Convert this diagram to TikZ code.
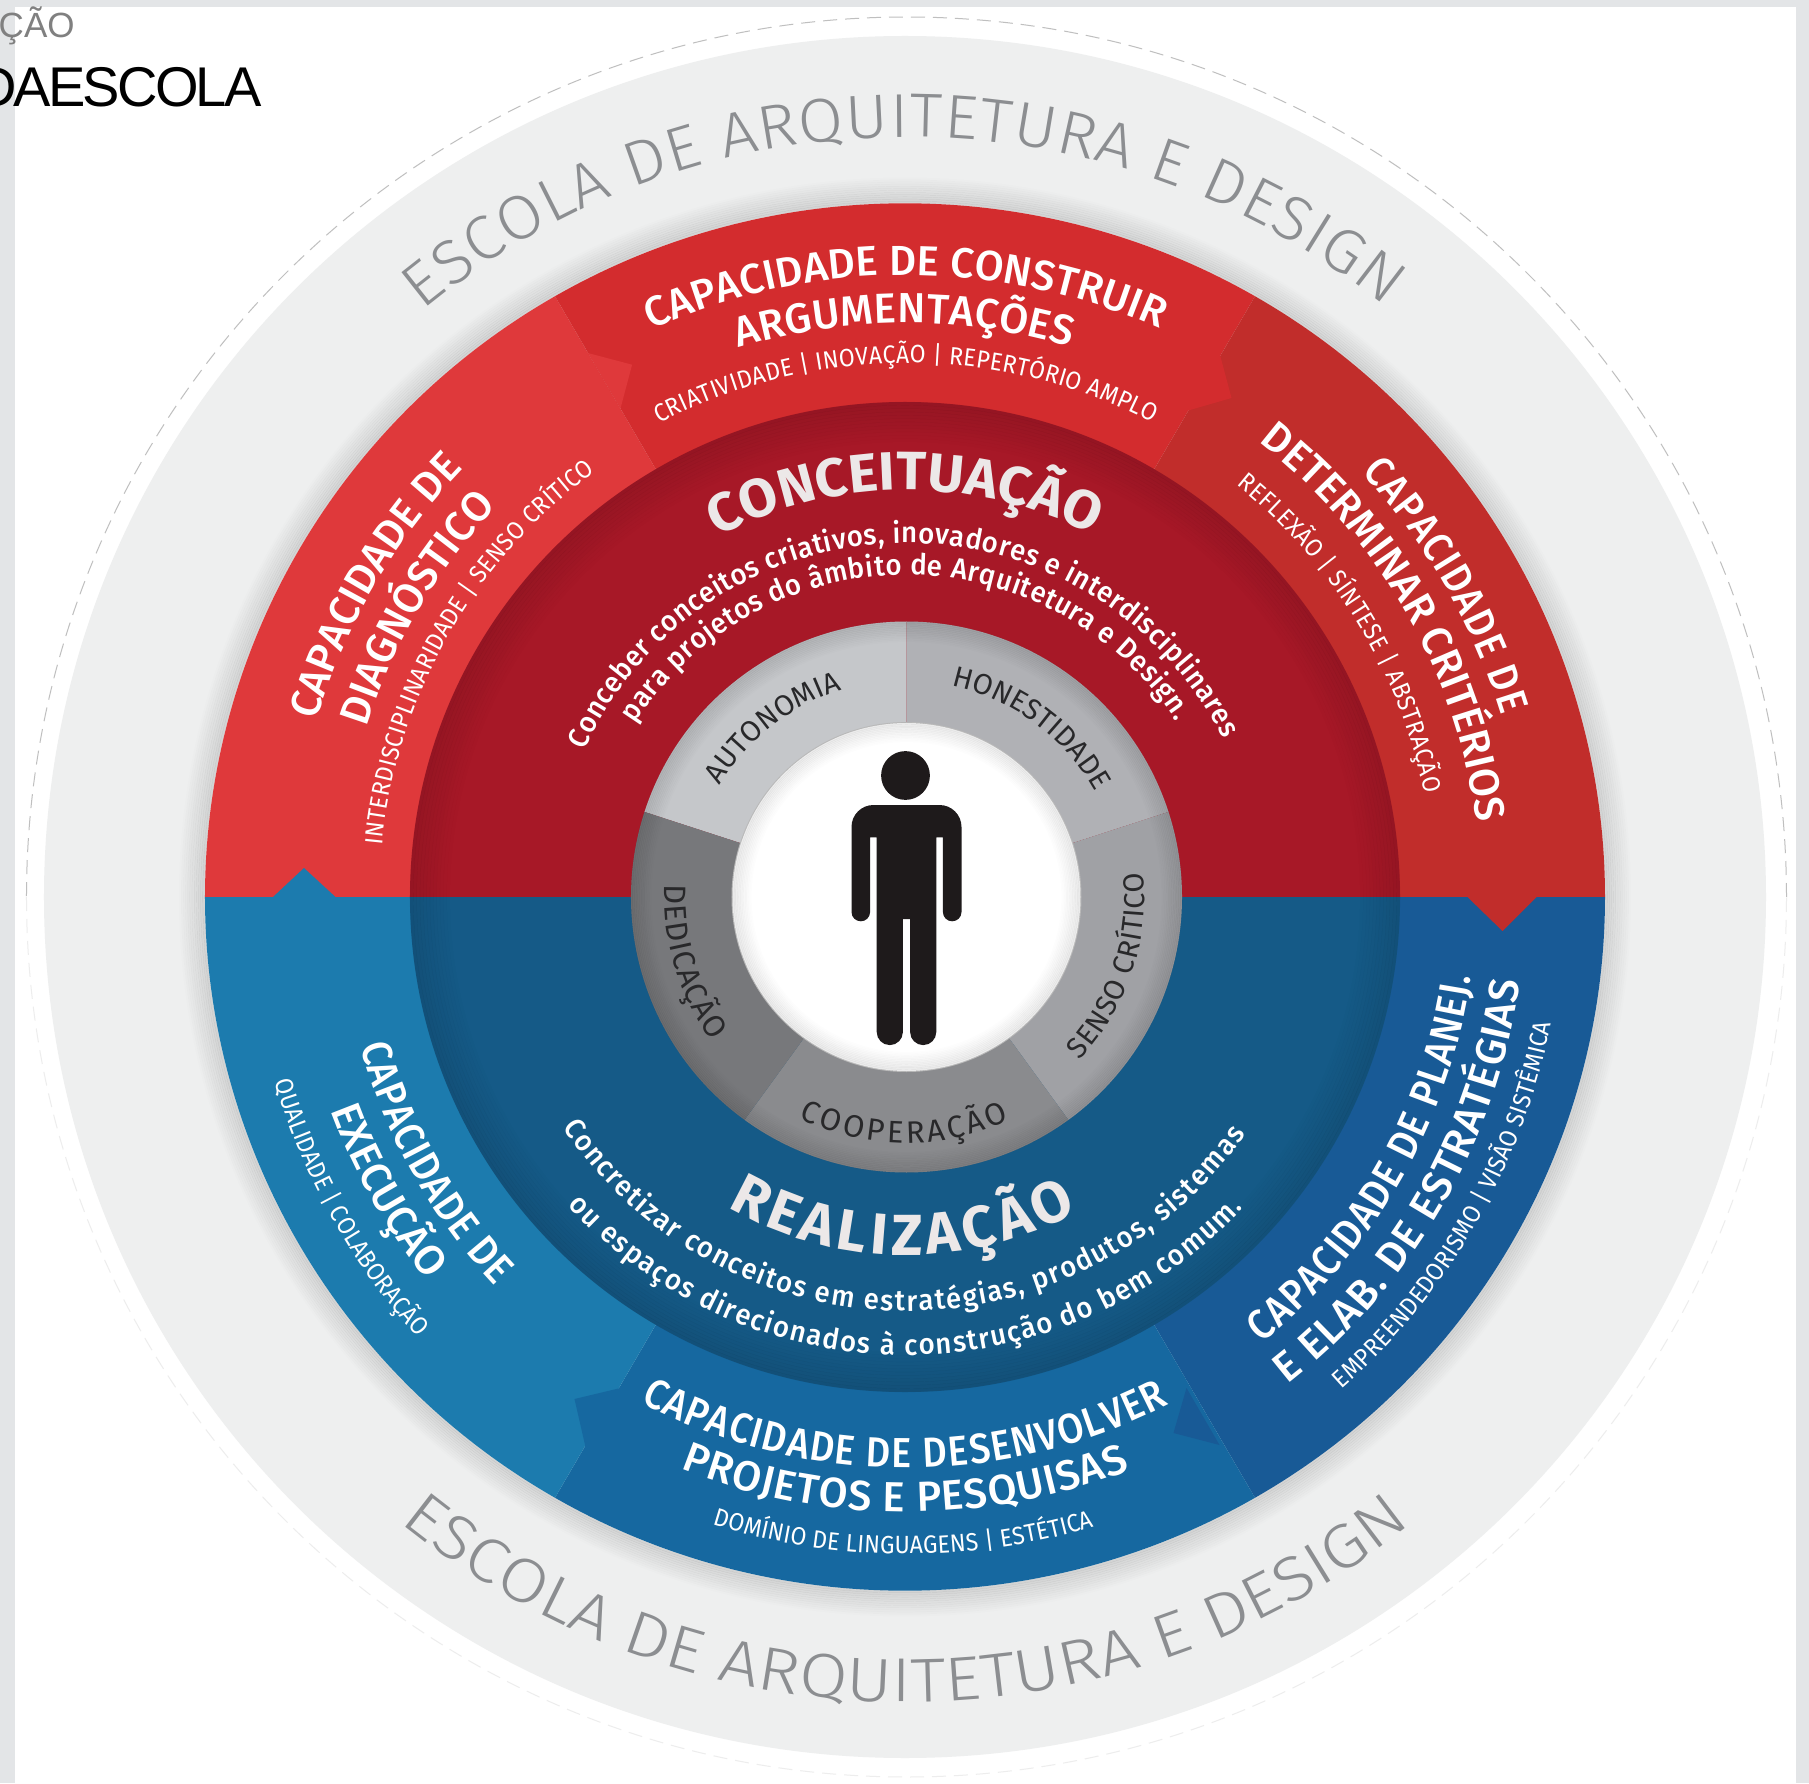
\documentclass[tikz,border=0pt]{standalone}
\usepackage{fontspec}
\usetikzlibrary{decorations.text}
\setmainfont{Fira Sans}
\newfontfamily\lightfam[FakeStretch=1.14]{Fira Sans Light}
\newfontfamily\lighttopfam[FakeStretch=1.06]{Fira Sans Light}
\newfontfamily\medfam{Fira Sans Medium}
\newfontfamily\medtightfam[FakeStretch=0.9]{Fira Sans Medium}
\newfontfamily\subfam[FakeStretch=0.92]{Fira Sans}
\newfontfamily\bodyfam[FakeStretch=0.95]{Fira Sans Medium}
\newfontfamily\mainfam[FakeStretch=1.03]{Fira Sans Bold}
\newfontfamily\lowerfam{Fira Sans Bold}
\newfontfamily\clipfam{Liberation Sans}
\newfontfamily\tightfam[LetterSpace=-5]{Liberation Sans}
\newcommand{\schoolfont}{\lightfam\fontsize{31}{31}\selectfont}
\newcommand{\schooltopfont}{\lighttopfam\fontsize{31}{31}\selectfont}
\newcommand{\headfont}{\medfam\fontsize{21}{21}\selectfont}
\newcommand{\headtightfont}{\medtightfam\fontsize{21}{21}\selectfont}
\newcommand{\subfont}{\subfam\fontsize{12.5}{12.5}\selectfont}
\newcommand{\mainfont}{\mainfam\fontsize{27}{27}\selectfont}
\newcommand{\lowerfont}{\lowerfam\fontsize{29}{29}\selectfont}
\newcommand{\bodyfont}{\bodyfam\fontsize{14.5}{14.5}\selectfont}
\newcommand{\ringfont}{\fontsize{14.5}{14.5}\selectfont}
\newcommand{\ringbigfont}{\fontsize{15.5}{15.5}\selectfont}
\definecolor{stripgray}{HTML}{E3E5E7}
\definecolor{discgray}{HTML}{EEEFEF}
\definecolor{schoolgray}{HTML}{8C8E91}
\definecolor{redleft}{HTML}{DF393B}
\definecolor{redtop}{HTML}{D32C2E}
\definecolor{redright}{HTML}{C12D2B}
\definecolor{reddark}{HTML}{A71827}
\definecolor{blueleft}{HTML}{1C7BAE}
\definecolor{bluebottom}{HTML}{1668A0}
\definecolor{blueright}{HTML}{185A96}
\definecolor{bluedark}{HTML}{155A87}
\definecolor{ringink}{HTML}{28282A}
\definecolor{figureink}{HTML}{1E1A1B}
\definecolor{softwhite}{HTML}{ECE8E8}
\definecolor{ringa}{HTML}{C5C7CA}
\definecolor{ringb}{HTML}{B0B1B5}
\definecolor{ringc}{HTML}{A0A1A5}
\definecolor{ringd}{HTML}{8A8B8E}
\definecolor{ringe}{HTML}{77787B}
\newcommand{\sector}[5]{\fill[#5] (#3:#1) arc[start angle=#3,end angle=#4,radius=#1] -- (#4:#2) arc[start angle=#4,end angle=#3,radius=#2] -- cycle;}
\newcommand{\rimshade}[3]{\foreach \n in {0,...,11}{
  \pgfmathsetmacro{\rad}{#1+(#2-#1)*(\n+0.5)/12}
  \pgfmathsetmacro{\fade}{#3*(\n+1)/12}
  \pgfmathsetmacro{\wide}{abs(#2-#1)/24+0.1}
  \draw[black,draw opacity=\fade,line width=\wide pt] (0,0) circle[radius=\rad];}}
\newcommand{\arctext}[6]{\path[decorate,decoration={text along path,text align={fit to path},text color=#2,text={|#1|#6}}] (#4:#3) arc[start angle=#4,end angle=#5,radius=#3];}
\begin{document}
\begin{tikzpicture}[x=0.5pt,y=0.5pt]
  \useasboundingbox (-906.5,-886) rectangle (902.5,897);
  \fill[white] (-906.5,-886) rectangle (902.5,897);
  \fill[stripgray] (-906.5,889.5) rectangle (902.5,897);
  \fill[stripgray] (-906.5,-886) rectangle (-891.5,897);
  \fill[stripgray] (889.5,-886) rectangle (902.5,897);
  \node[anchor=base east,inner sep=0pt,text=gray] (caption) at (-831.5,859.5) {\clipfam\fontsize{17.5}{17.5}\selectfont ÇÃO};
  \node[anchor=base east,inner sep=0pt,text=black] (title) at (-644.5,790) {\tightfam\fontsize{28}{28}\selectfont DAESCOLA};
  \draw[gray!50,line width=0.5pt,dash pattern=on 7pt off 4pt] (0:880) arc[start angle=0,end angle=180,radius=880];
  \draw[gray!14,line width=0.5pt,dash pattern=on 7pt off 4pt] (180:880) arc[start angle=180,end angle=360,radius=880];
  \begin{scope}[xshift=-0.75pt]
    \fill[discgray] (0,0) circle[radius=861];
    \begin{scope}[yscale=0.991]
      \rimshade{726}{700}{0.11}
      \sector{700}{410}{180}{120}{redleft}
      \sector{700}{410}{120}{60}{redtop}
      \sector{700}{410}{60}{0}{redright}
      \sector{700}{410}{360}{300}{blueright}
      \sector{700}{410}{300}{240}{bluebottom}
      \sector{700}{410}{240}{180}{blueleft}
    \end{scope}
    \fill[redleft] (-316.8,543.9) -- (-272.9,532.3) -- (-284.5,488.5) -- cycle;
    \fill[redtop] (314.5,544) -- (326.5,499) -- (281.5,486) -- cycle;
    \fill[redright] (562.5,0) -- (597.5,-34) -- (631.5,0) -- cycle;
    \fill[blueright] (281.5,-491) -- (268.5,-536) -- (314.5,-548) -- cycle;
    \fill[bluebottom] (-284.5,-491) -- (-330.5,-502) -- (-319.5,-550) -- cycle;
    \fill[blueleft] (-632,0) -- (-601,29) -- (-569.5,0) -- cycle;
    \sector{495}{0}{0}{180}{reddark}
    \sector{495}{0}{180}{360}{bluedark}
    \rimshade{455}{495}{0.1}
  \end{scope}
  \sector{275.5}{170}{162}{90}{ringa}
  \sector{275.5}{170}{90}{18}{ringb}
  \sector{275.5}{170}{18}{-54}{ringc}
  \sector{275.5}{170}{306}{234}{ringd}
  \sector{275.5}{170}{234}{162}{ringe}
  \rimshade{255}{275.5}{0.1}
  \fill[gray!55] (0,0) circle[radius=175];
  \fill[white] (0,0) circle[radius=174];
  \rimshade{155}{174}{0.08}
  \fill[figureink] (-1,121.5) circle[radius=24.4];
  \fill[figureink] (-36.4,59.6) -- (-36.4,-15) arc[start angle=0,end angle=-180,radius=9.3] -- (-55,70) arc[start angle=180,end angle=90,radius=22] -- (33,92) arc[start angle=90,end angle=0,radius=22] -- (55,-15) arc[start angle=0,end angle=-180,radius=9.3] -- (36.4,59.6) -- (29.8,59.6) -- (29.8,-135) arc[start angle=0,end angle=-180,radius=13.1] -- (3.6,-22) -- (-3.6,-22) -- (-3.6,-135) arc[start angle=0,end angle=-180,radius=13.1] -- (-29.8,59.6) -- cycle;
  \arctext{\schooltopfont}{schoolgray}{760}{129.5}{51}{ESCOLA DE ARQUITETURA E DESIGN}
  \arctext{\schoolfont}{schoolgray}{805}{231}{308.8}{ESCOLA DE ARQUITETURA E DESIGN}
  \arctext{\headfont}{white}{622}{114.2}{66}{CAPACIDADE DE CONSTRUIR}
  \arctext{\headfont}{white}{574}{107}{73.4}{ARGUMENTAÇÕES}
  \arctext{\subfont}{white}{534}{117.6}{62.6}{CRIATIVIDADE {\textbar} INOVAÇÃO {\textbar} REPERTÓRIO AMPLO}
  \arctext{\headfont}{white}{616}{163.4}{136.4}{CAPACIDADE DE}
  \arctext{\headfont}{white}{566}{162.6}{137.8}{DIAGNÓSTICO}
  \arctext{\subfont}{white}{527}{174.4}{126.2}{INTERDISCIPLINARIDADE {\textbar} SENSO CRÍTICO}
  \arctext{\headtightfont}{white}{622}{43}{17}{CAPACIDADE DE}
  \arctext{\headfont}{white}{575}{52.3}{7.8}{DETERMINAR CRITÉRIOS}
  \arctext{\subfont}{white}{528}{51.3}{11.3}{REFLEXÃO {\textbar} SÍNTESE {\textbar} ABSTRAÇÃO}
  \arctext{\headtightfont}{white}{566}{195.3}{223.4}{CAPACIDADE DE}
  \arctext{\headfont}{white}{614}{200.3}{218.6}{EXECUÇÃO}
  \arctext{\subfont}{white}{658}{196.3}{222}{QUALIDADE {\textbar} COLABORAÇÃO}
  \arctext{\headtightfont}{white}{571}{242.2}{297.4}{CAPACIDADE DE DESENVOLVER}
  \arctext{\headfont}{white}{615}{248.4}{291.3}{PROJETOS E PESQUISAS}
  \arctext{\subfont}{white}{657}{252.8}{286.6}{DOMÍNIO DE LINGUAGENS {\textbar} ESTÉTICA}
  \arctext{\headtightfont}{white}{570}{-51.5}{-8}{CAPACIDADE DE PLANEJ.}
  \arctext{\headfont}{white}{619}{-52}{-7.8}{E ELAB. DE ESTRATÉGIAS}
  \arctext{\subfont}{white}{657}{-48.5}{-11.1}{EMPREENDEDORISMO {\textbar} VISÃO SISTÊMICA}
  \arctext{\mainfont}{softwhite}{407}{117.6}{62.9}{CONCEITUAÇÃO}
  \arctext{\bodyfont}{white}{354}{155.5}{26.5}{Conceber conceitos criativos, inovadores e interdisciplinares}
  \arctext{\bodyfont}{white}{322}{147.5}{33}{para projetos do âmbito de Arquitetura e Design.}
  \arctext{\lowerfont}{softwhite}{358}{240}{298.5}{REALIZAÇÃO}
  \arctext{\bodyfont}{white}{414}{213.8}{325}{Concretizar conceitos em estratégias, produtos, sistemas}
  \arctext{\bodyfont}{white}{458}{222.3}{317.3}{ou espaços direcionados à construção do bem comum.}
  \arctext{\ringfont}{ringink}{217}{149.2}{108}{AUTONOMIA}
  \arctext{\ringfont}{ringink}{216}{78}{29.5}{HONESTIDADE}
  \arctext{\ringfont}{ringink}{238}{-43.3}{6}{SENSO CRÍTICO}
  \arctext{\ringbigfont}{ringink}{246}{244}{294.8}{COOPERAÇÃO}
  \arctext{\ringbigfont}{ringink}{242}{177}{216.5}{DEDICAÇÃO}
\end{tikzpicture}
\end{document}
